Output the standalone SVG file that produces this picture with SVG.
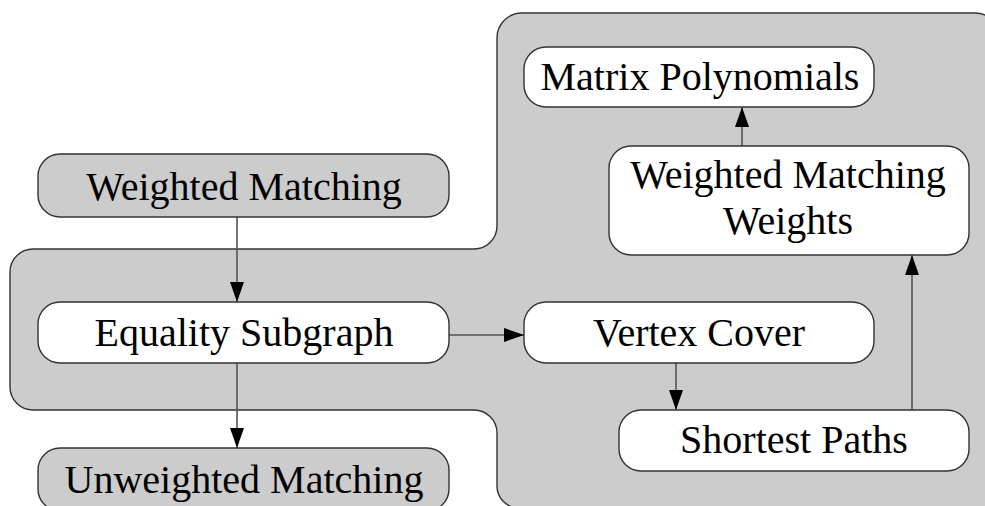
<svg xmlns="http://www.w3.org/2000/svg" width="985" height="506" viewBox="0 0 985 506">
<defs>
<style>
.bg{fill:#cccccc;stroke:#333;stroke-width:1.4}
.n{stroke:#333;stroke-width:1.4}
.w{fill:#ffffff}
.g{fill:#cccccc}
.t{font-family:'Liberation Serif','Times New Roman',Times,'DejaVu Serif',serif;font-size:40px;fill:#000;text-anchor:middle}
.e{fill:none;stroke:#555;stroke-width:1.6;marker-end:url(#ah)}
</style>
<marker id="ah" markerUnits="userSpaceOnUse" markerWidth="20" markerHeight="14" refX="20" refY="7" orient="auto">
<path d="M0,0 L20,7 L0,14 Z" fill="#000"/>
</marker>
</defs>
<path class="bg" d="M 10 272 A 23 23 0 0 1 33 249 H 474 A 23 23 0 0 0 497 226 V 38 A 25 25 0 0 1 522 13 H 975 A 25 25 0 0 1 1000 38 V 486 A 22 22 0 0 1 978 508 H 519 A 22 22 0 0 1 497 486 V 433 A 23 23 0 0 0 474 410 H 33 A 23 23 0 0 1 10 387 Z"/>
<g id="edges">
<line class="e" x1="237" y1="217" x2="237" y2="302"/>
<line class="e" x1="237" y1="363" x2="237" y2="448"/>
<line class="e" x1="449" y1="335" x2="524" y2="335"/>
<line class="e" x1="742" y1="146" x2="742" y2="107"/>
<line class="e" x1="676" y1="363" x2="676" y2="410"/>
<line class="e" x1="912" y1="410" x2="912" y2="255"/>
</g>
<g id="weighted-matching">
<rect class="n g" x="38" y="154" width="411" height="63" rx="22"/>
<text class="t" x="244" y="200">Weighted Matching</text>
</g>
<g id="equality-subgraph">
<rect class="n w" x="38" y="302" width="411" height="61" rx="22"/>
<text class="t" x="244" y="346">Equality Subgraph</text>
</g>
<g id="unweighted-matching">
<rect class="n g" x="38" y="448" width="411" height="63" rx="22"/>
<text class="t" x="244" y="493">Unweighted Matching</text>
</g>
<g id="matrix-polynomials">
<rect class="n w" x="524" y="47" width="350" height="60" rx="22"/>
<text class="t" x="700" y="90">Matrix Polynomials</text>
</g>
<g id="weighted-matching-weights">
<rect class="n w" x="609" y="146" width="360" height="109" rx="22"/>
<text class="t" x="788" y="188">Weighted Matching</text>
<text class="t" x="788" y="234">Weights</text>
</g>
<g id="vertex-cover">
<rect class="n w" x="524" y="302" width="350" height="61" rx="22"/>
<text class="t" x="699" y="346">Vertex Cover</text>
</g>
<g id="shortest-paths">
<rect class="n w" x="619" y="410" width="350" height="61" rx="22"/>
<text class="t" x="794" y="453">Shortest Paths</text>
</g>
</svg>
